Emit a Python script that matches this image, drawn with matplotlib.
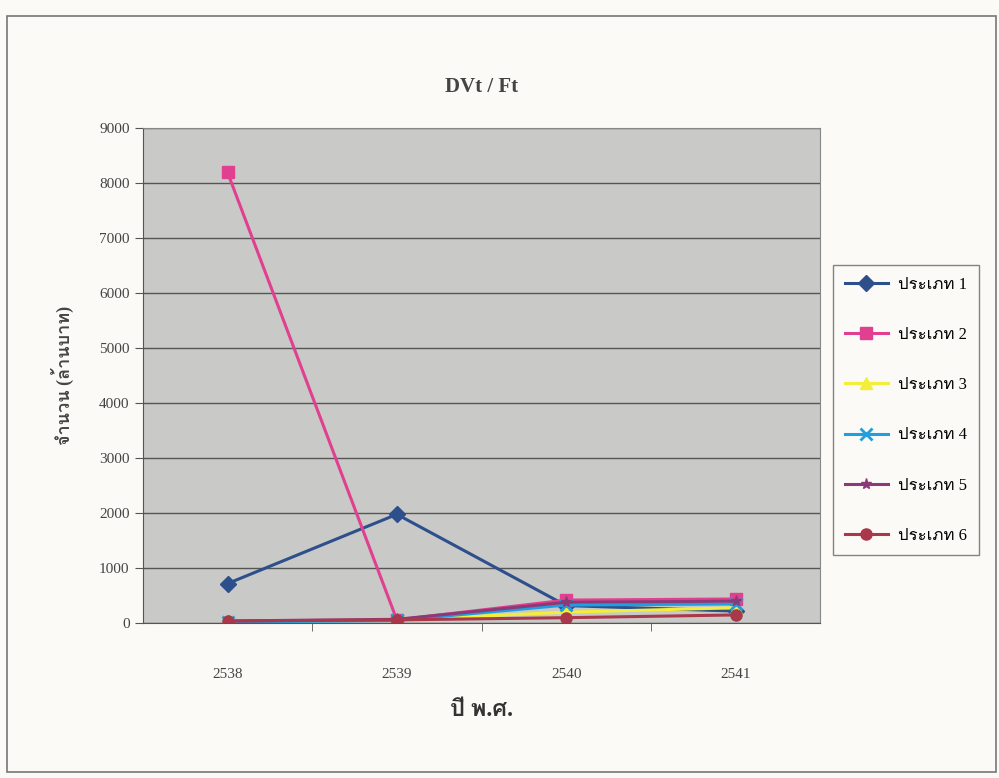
import matplotlib
matplotlib.use('Agg')
import matplotlib.pyplot as plt
from matplotlib import font_manager
from matplotlib.ft2font import FT2Font
from matplotlib.patches import Rectangle

# data
years = ['2538', '2539', '2540', '2541']
type1 = [720, 1980, 320, 220]
type2 = [8200, 60, 420, 440]
type3 = [30, 60, 200, 280]
type4 = [20, 50, 330, 350]
type5 = [40, 70, 380, 400]
type6 = [40, 60, 100, 150]
labels = ['ประเภท 1', 'ประเภท 2', 'ประเภท 3', 'ประเภท 4', 'ประเภท 5', 'ประเภท 6']

series = [type1, type2, type3, type4, type5, type6]
colors = ['#2d4f8c', '#e0408f', '#f2ee3a', '#1f9fe0', '#8b3a78', '#a8384a']
markers = ['D', 's', '^', 'x', '*', 'o']


# look for any installed font that carries Thai glyphs
def thai_families():
  found = []
  for f in font_manager.fontManager.ttflist:
    try:
      cmap = FT2Font(f.fname).get_charmap()
    except Exception:
      continue
    if 0x0E17 in cmap and 0x0E1B in cmap and f.name not in found:
      found.append(f.name)
  return found


thai = thai_families()
plt.rcParams['font.family'] = ['Liberation Serif'] + thai + ['DejaVu Sans']

fig = plt.figure(figsize=(9.99, 7.78), dpi=100, facecolor='#fbfaf6')
ax = fig.add_axes([0.143, 0.199, 0.678, 0.636])
ax.set_facecolor('#c9c9c7')

x = list(range(len(years)))
for vals, c, m, lab in zip(series, colors, markers, labels):
  ax.plot(x, vals, color=c, marker=m, markersize=8, linewidth=2.2,
          markeredgewidth=2 if m == 'x' else 1, label=lab)

ax.set_xlim(-0.5, len(years) - 0.5)
ax.set_ylim(0, 9000)
ax.set_yticks(range(0, 9001, 1000))
ax.set_xticks(x)
ax.set_xticklabels(years, fontsize=11, color='#444444')
ax.set_xticks([0.5, 1.5, 2.5], minor=True)
ax.tick_params(axis='x', which='major', length=0, pad=32)
ax.tick_params(axis='x', which='minor', length=6, color='#555555')
ax.tick_params(axis='y', labelsize=11, labelcolor='#444444', length=6, color='#555555')
ax.yaxis.grid(True, color='#555555', linewidth=1)
ax.set_axisbelow(True)
for s in ['top', 'right']:
  ax.spines[s].set_color('#888888')
for s in ['left', 'bottom']:
  ax.spines[s].set_color('#555555')

ax.set_title('DVt / Ft', fontsize=15, fontweight='bold', color='#444444', pad=26)
ax.set_ylabel('จำนวน (ล้านบาท)', fontsize=13, fontweight='bold', color='#444444', labelpad=18)
ax.set_xlabel('ปี พ.ศ.', fontsize=17, fontweight='bold', color='#333333', labelpad=14)

leg = fig.legend(loc='upper left', bbox_to_anchor=(0.834, 0.659), borderaxespad=0,
                 fontsize=12, labelspacing=2.05, handlelength=2.6, handletextpad=0.6,
                 borderpad=0.7, fancybox=False, frameon=True, edgecolor='#666666',
                 facecolor='#fbfaf6')
leg.get_frame().set_linewidth(1)

# outer chart border
fig.patches.append(Rectangle((0.007, 0.008), 0.99, 0.972, transform=fig.transFigure,
                             fill=False, edgecolor='#777777', linewidth=1.2))

plt.savefig('out.png', dpi=100, facecolor=fig.get_facecolor())
